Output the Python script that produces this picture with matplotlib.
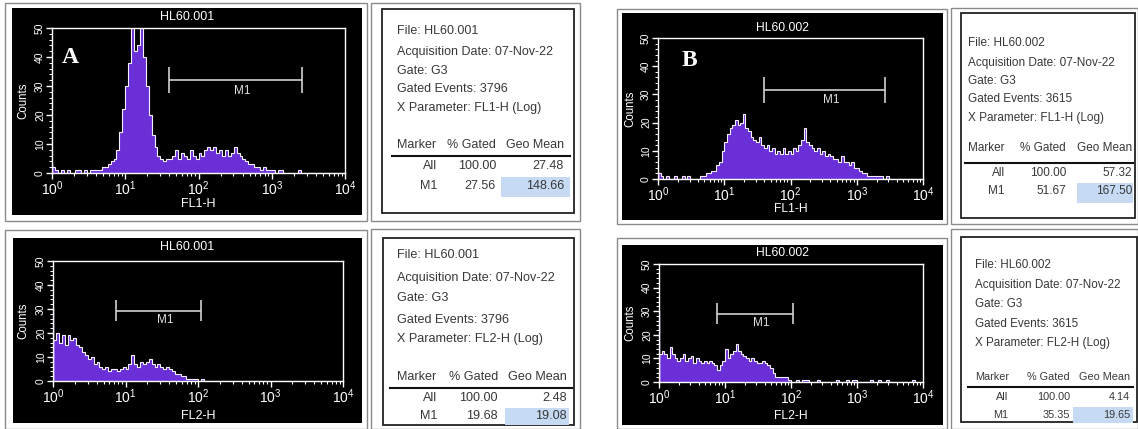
import numpy as np
import matplotlib
matplotlib.use('Agg')
import matplotlib.pyplot as plt
from matplotlib.patches import Rectangle
from matplotlib.ticker import FixedLocator, MultipleLocator, LogLocator, NullFormatter

plt.rcParams['font.family'] = ['Liberation Sans', 'DejaVu Sans']
plt.rcParams['mathtext.fontset'] = 'custom'
plt.rcParams['mathtext.rm'] = 'Liberation Sans'
plt.rcParams['mathtext.it'] = 'Liberation Sans:italic'
plt.rcParams['mathtext.bf'] = 'Liberation Sans:bold'

# ---------------- data ----------------
a_fl1_counts = [2, 1, 0, 1, 0, 1, 0, 0, 1, 1,
                0, 1, 0, 1, 1, 1, 1, 2, 2, 3,
                4, 5, 8, 14, 22, 30, 38, 51, 42, 44,
                53, 40, 30, 20, 13, 9, 6, 5, 4, 5,
                5, 6, 8, 5, 7, 6, 5, 8, 6, 5,
                7, 6, 8, 9, 8, 9, 7, 8, 6, 8,
                6, 7, 9, 7, 6, 5, 4, 3, 3, 2,
                2, 1, 2, 1, 1, 1, 0, 1, 1, 0,
                0, 0, 0, 0, 1, 0, 0, 0, 0, 0,
                0, 0, 0, 0, 0, 0, 0, 0, 0, 0]
a_fl1_first = 3
a_fl2_counts = [17, 20, 16, 19, 15, 19, 17, 18, 15, 14,
                12, 11, 9, 10, 7, 8, 6, 5, 6, 4,
                5, 5, 4, 5, 6, 5, 7, 11, 7, 6,
                8, 7, 8, 9, 7, 6, 7, 6, 5, 6,
                5, 4, 3, 3, 2, 2, 1, 1, 1, 1,
                0, 1, 0, 0, 0, 0, 0, 0, 0, 0,
                0, 0, 0, 0, 0, 0, 0, 0, 0, 0,
                0, 0, 0, 0, 0, 0, 0, 0, 0, 0,
                0, 0, 0, 0, 0, 0, 0, 0, 0, 0,
                0, 0, 0, 0, 0, 0, 0, 0, 0, 0]
a_fl2_first = 31
b_fl1_counts = [2, 1, 0, 1, 0, 0, 1, 0, 0, 1,
                0, 1, 0, 0, 0, 0, 1, 1, 2, 2,
                3, 3, 5, 6, 10, 13, 16, 18, 19, 21,
                19, 20, 23, 18, 17, 15, 14, 13, 15, 12,
                11, 12, 10, 11, 9, 10, 9, 11, 9, 10,
                9, 11, 10, 12, 14, 18, 13, 12, 11, 10,
                11, 9, 10, 8, 9, 8, 7, 7, 6, 8,
                6, 6, 5, 6, 4, 4, 3, 2, 2, 1,
                1, 1, 1, 1, 1, 0, 1, 0, 0, 0,
                0, 0, 0, 0, 0, 0, 0, 0, 0, 0]
b_fl1_first = 3
b_fl2_counts = [12, 13, 12, 10, 15, 12, 10, 9, 10, 12,
                9, 10, 11, 8, 10, 9, 8, 9, 8, 9,
                8, 7, 5, 7, 9, 14, 10, 12, 13, 16,
                13, 12, 11, 10, 9, 10, 9, 8, 8, 9,
                8, 7, 6, 4, 2, 2, 2, 2, 2, 1,
                0, 0, 1, 0, 1, 1, 1, 0, 0, 0,
                1, 0, 0, 0, 0, 0, 0, 1, 0, 0,
                0, 1, 0, 1, 1, 0, 0, 0, 0, 0,
                1, 0, 0, 1, 0, 0, 1, 0, 0, 0,
                0, 0, 0, 0, 0, 0, 1, 0, 0, 0]
b_fl2_first = 30

files = ['HL60.001', 'HL60.001', 'HL60.002', 'HL60.002']
params = ['FL1-H', 'FL2-H', 'FL1-H', 'FL2-H']
acq_date = '07-Nov-22'
gate = 'G3'
gated_events = [3796, 3796, 3615, 3615]
all_gated = ['100.00', '100.00', '100.00', '100.00']
all_geo = ['27.48', '2.48', '57.32', '4.14']
m1_gated = ['27.56', '19.68', '51.67', '35.35']
m1_geo = ['148.66', '19.08', '167.50', '19.65']
m1_ranges = [(40, 2570), (7.5, 109), (40, 2700), (7.5, 108)]
m1_levels = [32, 29.3, 31.5, 29]
panel_letters = ['A', None, 'B', None]
hist_counts = [a_fl1_counts, a_fl2_counts, b_fl1_counts, b_fl2_counts]
first_channel = [a_fl1_first, a_fl2_first, b_fl1_first, b_fl2_first]

# ---------------- layout (pixels) ----------------
W, H = 1138, 429
fig = plt.figure(figsize=(W / 100, H / 100), dpi=100)
bg = fig.add_axes([0, 0, 1, 1])
bg.set_xlim(0, W)
bg.set_ylim(H, 0)
bg.axis('off')

PURPLE = '#6a2fd6'
TXT = '#383838'

panels = [
    dict(frame=(5, 3, 367, 221), black=(12, 8, 362, 215), ax=(52, 28, 345, 173),
         title_y=17, xlabel_y=204, counts_x=23, letter=(62, 63), fs=9.0),
    dict(frame=(5, 230, 367, 429), black=(13, 238, 362, 423), ax=(53, 261, 343, 381),
         title_y=247, xlabel_y=416, counts_x=23, letter=None, fs=9.0),
    dict(frame=(617, 9, 947, 224), black=(622, 13, 943, 220), ax=(658, 38, 923, 179),
         title_y=28, xlabel_y=209, counts_x=630, letter=(682, 66), fs=8.7),
    dict(frame=(617, 238, 947, 429), black=(622, 245, 943, 425), ax=(659, 264, 923, 382),
         title_y=253, xlabel_y=416, counts_x=630, letter=None, fs=8.7),
]

boxes = [
    dict(outer=(371, 3, 580, 221), inner=(382, 9, 574, 213), lines=[31, 52, 71, 89, 108],
         header=145, rule=156, all_y=166, m1_y=186, tx=397, c1=437, c2=496, c3=564,
         rule_x=(392, 570), hl=(501, 177, 570, 197), fs=9.0, tfs=9.0),
    dict(outer=(371, 229, 580, 429), inner=(383, 238, 574, 425), lines=[255, 278, 298, 320, 339],
         header=377, rule=388, all_y=398, m1_y=416, tx=397, c1=437, c2=498, c3=567,
         rule_x=(390, 572), hl=(505, 408, 569, 425), fs=9.1, tfs=9.1),
    dict(outer=(951, 8, 1138, 224), inner=(961, 13, 1135, 218), lines=[43, 63, 81, 99, 118],
         header=148, rule=163, all_y=173, m1_y=191, tx=968, c1=1005, c2=1066, c3=1132,
         rule_x=(965, 1133), hl=(1077, 183, 1133, 203), fs=8.5, tfs=8.5),
    dict(outer=(951, 229, 1138, 429), inner=(961, 237, 1137, 422), lines=[265, 285, 304, 324, 343],
         header=377, rule=387, all_y=397, m1_y=415, tx=975, c1=1008, c2=1070, c3=1130,
         rule_x=(968, 1133), hl=(1073, 407, 1133, 423), fs=8.4, tfs=7.8),
]


def rect(x0, y0, x1, y1, **kw):
    bg.add_patch(Rectangle((x0, y0), x1 - x0, y1 - y0, **kw))


def px_axes(x0, y0, x1, y1):
    return fig.add_axes([x0 / W, 1 - y1 / H, (x1 - x0) / W, (y1 - y0) / H])


for k, p in enumerate(panels):
    rect(*p['frame'], fill=False, ec='#8a8a8a', lw=1.0)
    rect(*p['black'], fc='black', ec='none')
    bx0, by0, bx1, by1 = p['black']
    ax0, ay0, ax1, ay1 = p['ax']
    bg.text((bx0 + bx1) / 2, p['title_y'], files[k], color='white', fontsize=p['fs'],
            ha='center', va='center')
    bg.text((ax0 + ax1) / 2, p['xlabel_y'], params[k], color='white', fontsize=p['fs'],
            ha='center', va='center')
    bg.text(p['counts_x'], (ay0 + ay1) / 2, 'Counts', color='white', fontsize=8.3,
            ha='center', va='center', rotation=90)

    ax = px_axes(*p['ax'])
    ax.set_facecolor('black')
    counts = np.array(hist_counts[k], dtype=float)
    n = len(counts)
    edges = np.logspace(0, 4, n + 1)
    ax.stairs(counts, edges, fill=True, color=PURPLE, zorder=2)
    ax.stairs(counts, edges, color='#f4f0ff', lw=0.8, zorder=3)
    ax.vlines(edges[0] * 1.004, 0, first_channel[k], color='#f4f0ff', lw=1.0, zorder=3)
    ax.set_xscale('log')
    ax.set_xlim(1, 1e4)
    ax.set_ylim(0, 50)
    for s in ax.spines.values():
        s.set_color('white')
        s.set_linewidth(1.0)
    ax.xaxis.set_major_locator(FixedLocator([1, 10, 100, 1000, 10000]))
    ax.set_xticklabels([r'$10^{0}$', r'$10^{1}$', r'$10^{2}$', r'$10^{3}$', r'$10^{4}$'])
    ax.xaxis.set_minor_locator(LogLocator(base=10, subs=np.arange(2, 10), numticks=20))
    ax.xaxis.set_minor_formatter(NullFormatter())
    ax.yaxis.set_major_locator(MultipleLocator(10))
    ax.yaxis.set_minor_locator(MultipleLocator(2))
    ax.tick_params(axis='both', which='both', colors='white', direction='out')
    ax.tick_params(axis='x', which='major', length=4, width=1, labelsize=10, pad=0.5)
    ax.tick_params(axis='x', which='minor', length=2.5, width=0.8)
    ax.tick_params(axis='y', which='major', length=4, width=1, labelsize=7.5, pad=1)
    ax.tick_params(axis='y', which='minor', length=2.5, width=0.7)
    for lab in ax.get_yticklabels():
        lab.set_rotation(90)
        lab.set_va('center')
    # M1 marker
    lo, hi = m1_ranges[k]
    lev = m1_levels[k]
    ax.hlines(lev, lo, hi, color='#d0d0d0', lw=1.2, zorder=4)
    ax.vlines([lo, hi], lev - 4.5, lev + 4.5, color='#d0d0d0', lw=1.2, zorder=4)
    ax.text(np.sqrt(lo * hi) * 1.25, lev - 1.5, 'M1', color='#e0e0e0', fontsize=8.5,
            ha='center', va='top', zorder=4)
    if panel_letters[k]:
        lx, ly = p['letter']
        ax.text(lx, ly, panel_letters[k], color='white', fontsize=17, fontweight='bold',
                family='Liberation Serif', ha='left', va='baseline',
                transform=bg.transData, zorder=5)

for k, b in enumerate(boxes):
    fs = b['fs']
    tfs = b['tfs']
    rect(*b['outer'], fill=False, ec='#8a8a8a', lw=1.0)
    rect(*b['inner'], fc='white', ec='#222222', lw=1.3)
    hx0, hy0, hx1, hy1 = b['hl']
    rect(hx0, hy0, hx1, hy1, fc='#c6daf3', ec='none')
    lines = [f'File: {files[k]}', f'Acquisition Date: {acq_date}', f'Gate: {gate}',
             f'Gated Events: {gated_events[k]}', f'X Parameter: {params[k]} (Log)']
    for txt, y in zip(lines, b['lines']):
        bg.text(b['tx'], y, txt, color=TXT, fontsize=fs, ha='left', va='center')
    bg.text(b['tx'], b['header'], 'Marker', color=TXT, fontsize=tfs, ha='left', va='center')
    bg.text(b['c2'], b['header'], '% Gated', color=TXT, fontsize=tfs, ha='right', va='center')
    bg.text(b['c3'], b['header'], 'Geo Mean', color=TXT, fontsize=tfs, ha='right', va='center')
    bg.plot(b['rule_x'], [b['rule'], b['rule']], color='#111111', lw=1.5)
    for lab, g, gm, y in [('All', all_gated[k], all_geo[k], b['all_y']),
                          ('M1', m1_gated[k], m1_geo[k], b['m1_y'])]:
        bg.text(b['c1'], y, lab, color=TXT, fontsize=tfs, ha='right', va='center')
        bg.text(b['c2'], y, g, color=TXT, fontsize=tfs, ha='right', va='center')
        bg.text(b['c3'], y, gm, color=TXT, fontsize=tfs, ha='right', va='center')

fig.savefig('out.png', dpi=100, facecolor='white')
